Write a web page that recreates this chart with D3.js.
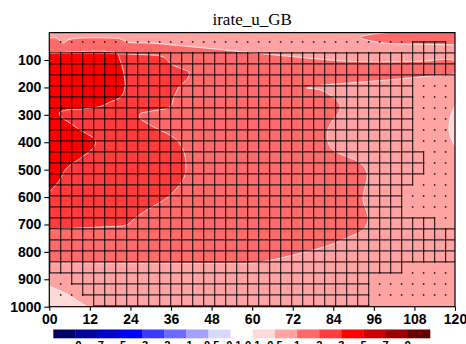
<!DOCTYPE html>
<html><head><meta charset="utf-8">
<script src="https://cdn.jsdelivr.net/npm/d3@7"></script>
<style>body{margin:0;background:#fff}svg{display:block}</style>
</head><body><svg width="466" height="344"></svg>
<script>
// ---- data ----
const xTicks = [0, 12, 24, 36, 48, 60, 72, 84, 96, 108, 120];
const xTickLabels = ["00", "12", "24", "36", "48", "60", "72", "84", "96", "108", "120"];
const yTicks = [100, 200, 300, 400, 500, 600, 700, 800, 900, 1000];
const barLabels = ["-9", "-7", "-5", "-3", "-2", "-1", "-0.5", "-0.1", "0.1", "0.5", "1", "2", "3", "5", "7", "9"];
const barColors = ["#000066", "#00009a", "#0000cc", "#0000ff", "#3b3bff", "#6b6bff", "#a3a3ff", "#d8d8ff",
                   "#ffffff", "#ffd8d8", "#ffa3a3", "#ff6b6b", "#ff3b3b", "#ff0000", "#cc0000", "#990000", "#660000"];
const baseLevel = 0.5;

// contour boundaries: [hour, level] along the inner edge; close = extra corners on the frame
const lineGe1 = [[0,20],[2,20],[3.2,31],[4.3,38],[5.5,27],[9.1,20],[18,20],[21.2,23],[22.7,34],[29.8,38],[37.2,46],
  [47.5,58],[59.4,73],[71.2,87],[80.1,97],[87.5,104],[97.8,107],[109.6,105],[120,104],[120,147],[112.6,158],[103.7,169],
  [94.9,178],[86,186],[78.6,195],[76.2,202],[80.1,209],[83.9,235],[86,264],[85.7,290],[83.9,319],[82.4,355],[82.4,399],
  [83.9,428],[87.5,450],[91,468],[93.4,494],[94,530],[93.4,563],[92.8,611],[93.7,647],[94.3,684],[92.8,720],[88,749],
  [83,775],[76.2,799],[68.2,823],[61.4,839],[53.4,842],[29.8,841],[0,839]];
const lineGe1Top = [[120,45],[109.6,42],[100.8,40],[95.4,31],[91.9,18],[94.9,7],[100.8,0]];
const lineGe2 = [[0,76],[9.1,76],[20,77],[26.8,80],[32.7,85],[34.5,94],[35.7,112],[38.7,130],[41.3,144],[41,166],
  [38.4,198],[36.9,235],[35.7,270],[30.4,286],[26.8,297],[26.8,312],[30.7,343],[37.7,392],[39.8,436],[40.4,483],
  [40.1,520],[38.7,552],[34.8,603],[28.9,647],[25.1,680],[22.9,702],[17.1,708],[7,714],[0,720]];
const lineGe3 = [[0,76],[20,76],[20.9,100],[21.8,136],[22.4,197],[21.2,234],[18,253],[15,270],[9.1,279],[5.1,282],
  [3,293],[3.7,310],[6.1,330],[9.1,355],[13.5,392],[13.2,417],[9.1,459],[5.1,495],[2.7,544],[0,582]];
const lineLt05Left = [[0,925],[4.6,950],[11.1,1000]];
const lineLt05Right = [[120,268],[118.8,301],[118.2,348],[118.8,384],[120,414]];

const bands = [
  {level: 1, line: lineGe1, close: []},
  {level: 1, line: lineGe1Top, close: [[120, 0]]},
  {level: 2, line: lineGe2, close: []},
  {level: 3, line: lineGe3, close: []},
  {level: 0.1, line: lineLt05Left, close: [[0, 1000]]},
  {level: 0.1, line: lineLt05Right, close: []}
];

// significance marks on the analysis grid: "+" cross-hatch, "." stipple, "*" both
const markStep = [3.253, 40.13], markOrigin = [0.12, 34];
const markRows = [
  " ................................++++ ",
  "++++++++++++++++++++++++++++++++++++++",
  "++++++++++++++++++++++++++++++++++++++",
  "++++++++++++++++++++++++++++++++++++++",
  "++++++++++++++++++++++++++++++++++... ",
  "++++++++++++++++++++++++++++++++++... ",
  "++++++++++++++++++++++++++++++++++... ",
  "++++++++++++++++++++++++++++++++++... ",
  "++++++++++++++++++++++++++++++++++... ",
  "++++++++++++++++++++++++++++++++++... ",
  "+++++++++++++++++++++++++++++++++++.. ",
  "+++++++++++++++++++++++++++++++++++.. ",
  "+++++++++++++++++++++++++++++++++++.. ",
  "++++++++++++++++++++++++++++++++++... ",
  "+++++++++++++++++++++++++++++++++.... ",
  "+++++++++++++++++++++++++++++++++.... ",
  "++++++++++++++++++++++++++++++++++++. ",
  "++++++++++++++++++++++++++++++++++++++",
  "++++++++++++++++++++++++++++++++++++++",
  "++++++++++++++++++++++++++++++++++++++",
  "++++++++++++++++++++++++++++++++++++++",
  "+++++++++++++++++++++++++++++++++.... ",
  " .*+++++++++++++++++++++++++++....... ",
  " ..*++++++++++++++++++++++++++....... ",
  "    ++++++++++++++++++++++++++        "
];

// ---- drawing ----
const svg = d3.select('svg');
const x = d3.scaleLinear().domain([0, 120]).range([49.3, 455]);
const y = d3.scaleLinear().domain([0, 1000]).range([32.6, 306.7]);
const colorOf = d3.scaleThreshold()
  .domain(barLabels.map(Number))
  .range(barColors);

svg.append('defs').append('clipPath').attr('id', 'plotclip')
   .append('rect')
   .attr('x', x(0)).attr('y', y(0))
   .attr('width', x(120) - x(0)).attr('height', y(1000) - y(0));

const plot = svg.append('g').attr('clip-path', 'url(#plotclip)');

plot.append('rect')
    .attr('x', x(0)).attr('y', y(0))
    .attr('width', x(120) - x(0)).attr('height', y(1000) - y(0))
    .attr('fill', colorOf(baseLevel));

const smoothLine = d3.line().x(d => x(d[0])).y(d => y(d[1])).curve(d3.curveCatmullRom.alpha(0.5));

// filled bands: smoothed inner edge, then straight frame corners
bands.forEach(b => {
  const tail = b.close.map(d => `L${x(d[0])},${y(d[1])}`).join('');
  plot.append('path')
      .attr('d', smoothLine(b.line) + tail + 'Z')
      .attr('fill', colorOf(b.level));
});

// contour lines
bands.forEach(b => {
  plot.append('path')
      .attr('d', smoothLine(b.line))
      .attr('fill', 'none')
      .attr('stroke', '#fff')
      .attr('stroke-opacity', 0.85)
      .attr('stroke-width', 0.9);
});

// hatch / stipple
const gx = i => x(markOrigin[0] + i * markStep[0]);
const gy = j => y(markOrigin[1] + j * markStep[1]);
const isHatch = (j, i) => j >= 0 && j < markRows.length && '+*'.includes(markRows[j][i] || ' ');
const isDot = (j, i) => '.*'.includes(markRows[j][i] || ' ');

const segs = [];
markRows.forEach((row, j) => {
  for (let i = 0; i < row.length - 1; i++) {
    if (isHatch(j, i) && isHatch(j, i + 1)) segs.push([gx(i), gy(j), gx(i + 1), gy(j)]);
  }
  for (let i = 0; i < row.length; i++) {
    if (isHatch(j, i) && isHatch(j + 1, i)) segs.push([gx(i), gy(j), gx(i), gy(j + 1)]);
  }
});
plot.append('g')
    .attr('stroke', '#000')
    .attr('stroke-opacity', 0.8)
    .attr('stroke-width', 1.2)
    .attr('stroke-linecap', 'square')
    .selectAll('line').data(segs).join('line')
    .attr('x1', d => d[0]).attr('y1', d => d[1])
    .attr('x2', d => d[2]).attr('y2', d => d[3]);

const dots = [];
markRows.forEach((row, j) => {
  for (let i = 0; i < row.length; i++) if (isDot(j, i)) dots.push([gx(i), gy(j)]);
});
plot.append('g').attr('fill', '#222')
    .selectAll('circle').data(dots).join('circle')
    .attr('cx', d => d[0]).attr('cy', d => d[1]).attr('r', 0.9);

// frame
svg.append('rect')
   .attr('x', x(0)).attr('y', y(0))
   .attr('width', x(120) - x(0)).attr('height', y(1000) - y(0))
   .attr('fill', 'none').attr('stroke', '#000').attr('stroke-width', 1.2);

// axes
const xAxis = svg.append('g')
  .attr('transform', `translate(0,${y(1000)})`)
  .call(d3.axisBottom(x).tickValues(xTicks).tickFormat((d, i) => xTickLabels[i]).tickSize(4).tickPadding(3));
const yAxis = svg.append('g')
  .attr('transform', `translate(${x(0)},0)`)
  .call(d3.axisLeft(y).tickValues(yTicks).tickFormat(d3.format('d')).tickSize(5).tickPadding(3));
[xAxis, yAxis].forEach(g => {
  g.select('.domain').remove();
  g.selectAll('line').attr('stroke', '#000').attr('stroke-width', 1.1);
  g.selectAll('text').attr('font-family', 'Liberation Sans, Arial, sans-serif')
   .attr('font-weight', 'bold').attr('font-size', 14).attr('fill', '#000');
});

// title
svg.append('text')
   .attr('x', (x(0) + x(120)) / 2).attr('y', 25)
   .attr('text-anchor', 'middle')
   .attr('font-family', 'Liberation Serif, Times New Roman, serif')
   .attr('font-size', 17)
   .text('irate_u_GB');

// colour bar
const bar = d3.scaleBand().domain(d3.range(barColors.length)).range([53.3, 430]).paddingInner(0);
svg.append('g').selectAll('rect').data(barColors).join('rect')
   .attr('x', (d, i) => bar(i)).attr('y', 329.5)
   .attr('width', bar.bandwidth() + 0.3).attr('height', 8.8)
   .attr('fill', d => d);
svg.append('g').selectAll('text').data(barLabels).join('text')
   .attr('x', (d, i) => bar(i + 1)).attr('y', 349)
   .attr('text-anchor', 'middle')
   .attr('font-family', 'Liberation Sans, Arial, sans-serif')
   .attr('font-weight', 'bold').attr('font-size', 11)
   .text(d => d.replace('-', '\u2212'));
</script>
</body></html>
